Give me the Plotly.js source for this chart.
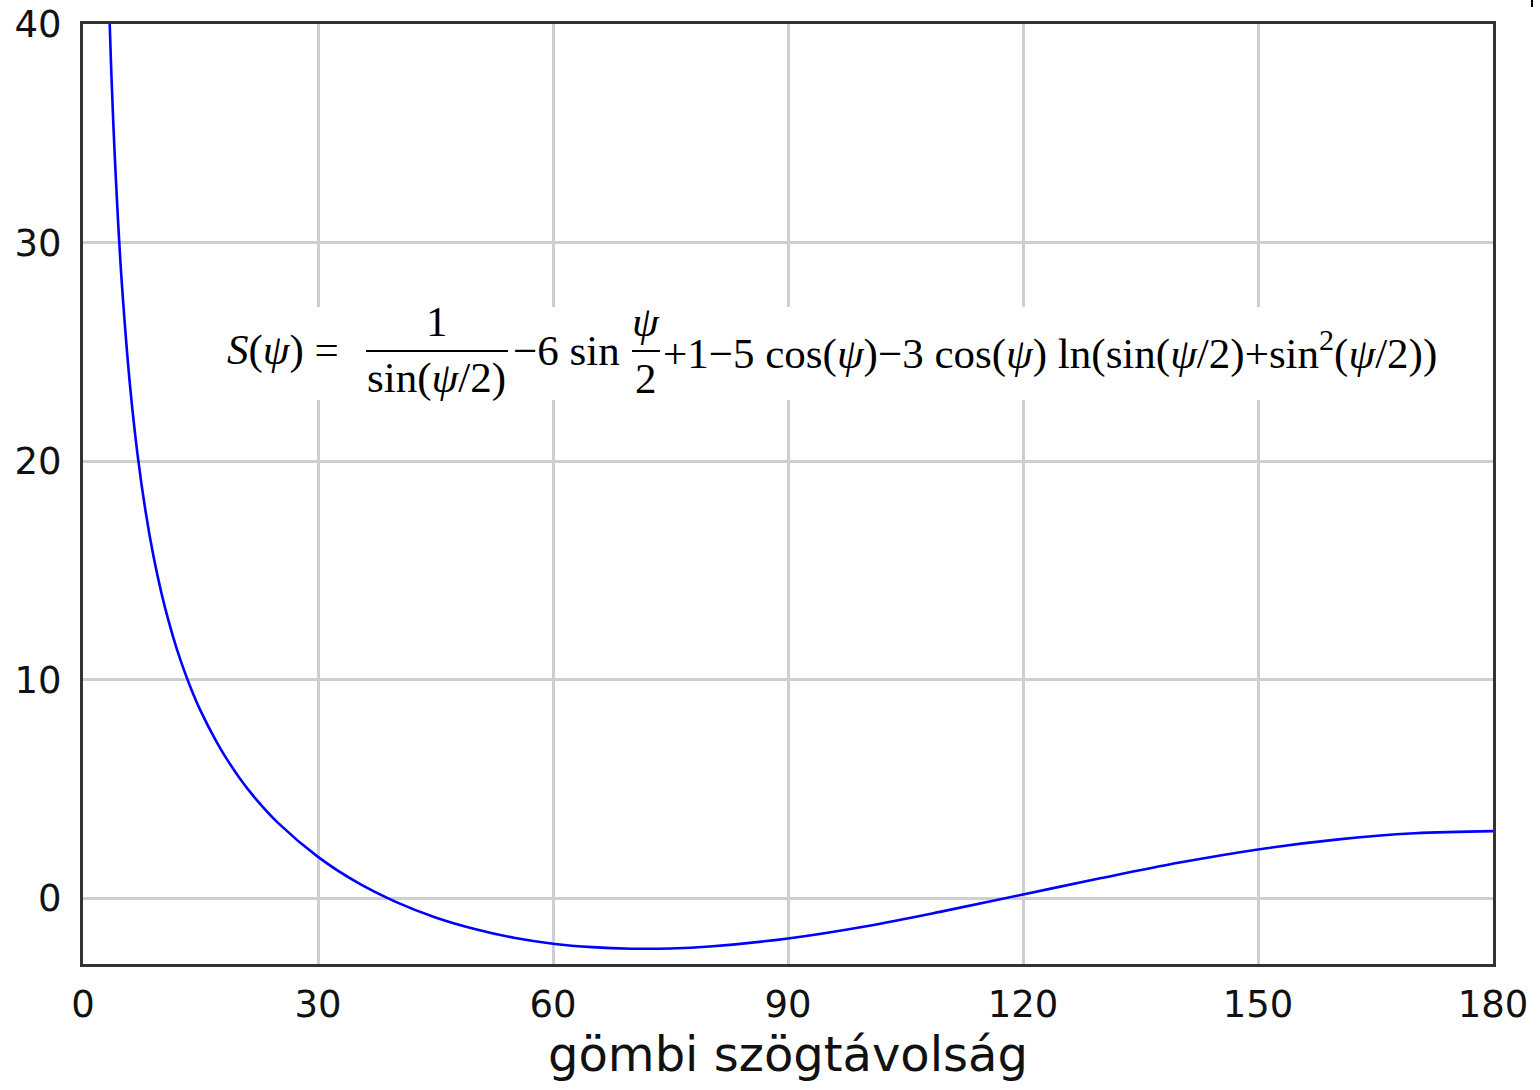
<!DOCTYPE html>
<html>
<head>
<meta charset="utf-8">
<script src="https://cdn.plot.ly/plotly-3.0.1.min.js"></script>
<style>
html,body{margin:0;padding:0;background:#fff;}
#chart{width:1540px;height:1090px;}
</style>
</head>
<body>
<div id="chart"></div>
<script>
// angular distance (degrees) and Stokes function values
const psiDeg = [3.2, 3.6, 4, 4.5, 5, 6, 7, 8, 9, 10, 11, 12, 13, 14, 15, 17, 18, 20, 22, 25, 30, 35, 40, 45, 50, 55, 60, 65, 70, 75, 80, 90, 100, 110, 120, 130, 140, 150, 160, 170, 180];
const stokesS = [42.29, 37.93, 34.40, 30.82, 27.92, 23.47, 20.20, 17.68, 15.65, 13.99, 12.59, 11.38, 10.34, 9.41, 8.59, 7.19, 6.58, 5.50, 4.58, 3.42, 1.90, 0.73, -0.17, -0.87, -1.40, -1.80, -2.07, -2.23, -2.30, -2.29, -2.20, -1.83, -1.27, -0.57, 0.18, 0.93, 1.64, 2.24, 2.69, 2.98, 3.08];
const xTicks = [0, 30, 60, 90, 120, 150, 180];
const yTicks = [0, 10, 20, 30, 40];
const xTitle = "gömbi szögtávolság";

// pixel helpers for layout positions (plot area 83..1493 x, 24..964 y)
const L = 83, R = 1493, T = 24, B = 964;
const px = x => (x - L) / (R - L);
const py = y => (B - y) / (B - T);

const mathFont = {family: "Liberation Serif, Times New Roman, serif", size: 43, color: "#000"};

const trace = {
  x: psiDeg, y: stokesS, type: "scatter", mode: "lines",
  line: {color: "rgb(0,0,255)", width: 2.6, shape: "spline", smoothing: 1},
  hoverinfo: "skip", showlegend: false
};

const mainY = py(350);
const annotations = [
  {text: "<i>S</i>(<i>ψ</i>) =", x: px(226), y: mainY, xanchor: "left", yanchor: "middle"},
  {text: "1", x: px(437), y: py(322), xanchor: "center", yanchor: "middle"},
  {text: "sin(<i>ψ</i>/2)", x: px(437), y: py(378), xanchor: "center", yanchor: "middle"},
  {text: "−6 sin", x: px(512), y: mainY, xanchor: "left", yanchor: "middle"},
  {text: "<i>ψ</i>", x: px(646), y: py(322), xanchor: "center", yanchor: "middle"},
  {text: "2", x: px(646), y: py(378), xanchor: "center", yanchor: "middle"},
  {text: "+1−5 cos(<i>ψ</i>)−3 cos(<i>ψ</i>) ln(sin(<i>ψ</i>/2)+sin<sup>2</sup>(<i>ψ</i>/2))", x: px(662), y: mainY, xanchor: "left", yanchor: "middle"}
].map(a => Object.assign({xref: "paper", yref: "paper", showarrow: false, font: mathFont, borderpad: 0}, a));

const shapes = [
  {type: "rect", xref: "paper", yref: "paper", x0: px(220), x1: px(1455), y0: py(400), y1: py(307), fillcolor: "#fff", line: {width: 0}, layer: "above"},
  {type: "line", xref: "paper", yref: "paper", x0: px(366), x1: px(508), y0: py(351), y1: py(351), line: {color: "#000", width: 2}, layer: "above"},
  {type: "line", xref: "paper", yref: "paper", x0: px(632), x1: px(660), y0: py(351), y1: py(351), line: {color: "#000", width: 2}, layer: "above"},
  {type: "line", xref: "paper", yref: "paper", x0: px(1532), x1: px(1532), y0: py(0), y1: py(7), line: {color: "#000", width: 2}}
];

const tickFont = {family: "DejaVu Sans, sans-serif", size: 37, color: "#111"};
const layout = {
  width: 1540, height: 1090,
  margin: {l: L, r: 1540 - R, t: T, b: 1090 - B, pad: 0},
  paper_bgcolor: "#fff", plot_bgcolor: "#fff",
  showlegend: false,
  xaxis: {
    range: [0, 180], tickvals: xTicks, ticktext: xTicks.map(String),
    showgrid: true, gridcolor: "#cfcfcf", gridwidth: 3,
    showline: true, linecolor: "#333", linewidth: 3, mirror: true,
    zeroline: false, ticks: "", ticklabelstandoff: 6,
    tickfont: tickFont,
    title: {text: xTitle, font: {family: "DejaVu Sans, sans-serif", size: 48, color: "#111"}, standoff: 4},
    automargin: false
  },
  yaxis: {
    range: [-3, 40], tickvals: yTicks, ticktext: yTicks.map(String),
    showgrid: true, gridcolor: "#cfcfcf", gridwidth: 3,
    showline: true, linecolor: "#333", linewidth: 3, mirror: true,
    zeroline: false, ticks: "", ticklabelstandoff: 11,
    tickfont: tickFont, automargin: false
  },
  annotations: annotations,
  shapes: shapes
};

Plotly.newPlot("chart", [trace], layout, {staticPlot: true, displayModeBar: false});
</script>
</body>
</html>
